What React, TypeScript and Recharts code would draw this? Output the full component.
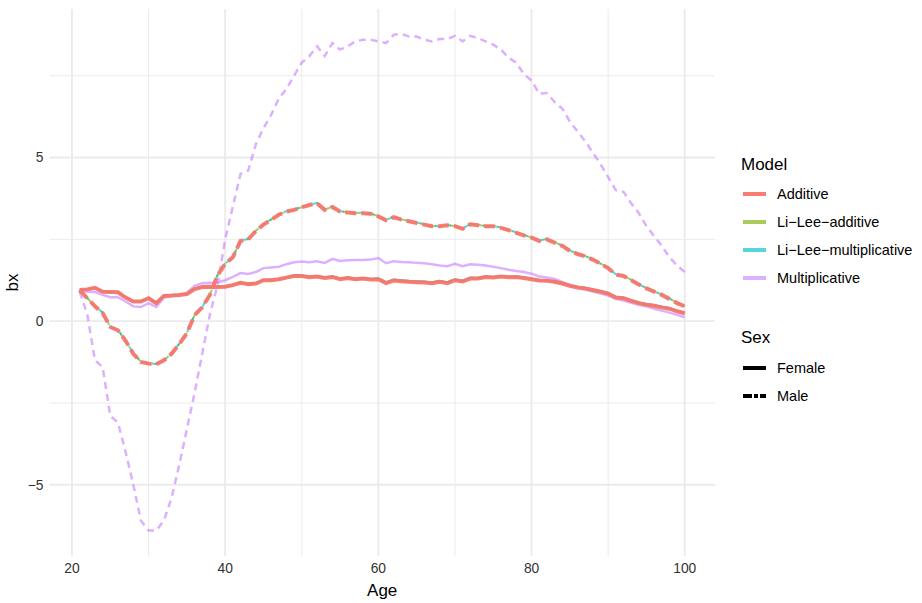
import React from 'react';
import { LineChart, Line, XAxis, YAxis, CartesianGrid, Label } from 'recharts';

const ages = [
  21, 22, 23, 24, 25, 26, 27, 28, 29, 30,
  31, 32, 33, 34, 35, 36, 37, 38, 39, 40,
  41, 42, 43, 44, 45, 46, 47, 48, 49, 50,
  51, 52, 53, 54, 55, 56, 57, 58, 59, 60,
  61, 62, 63, 64, 65, 66, 67, 68, 69, 70,
  71, 72, 73, 74, 75, 76, 77, 78, 79, 80,
  81, 82, 83, 84, 85, 86, 87, 88, 89, 90,
  91, 92, 93, 94, 95, 96, 97, 98, 99, 100,
];

const femaleAdditive = [
  0.95, 0.97, 1.02, 0.90, 0.89, 0.88, 0.72, 0.60, 0.60, 0.70,
  0.55, 0.77, 0.78, 0.80, 0.83, 0.98, 1.04, 1.05, 1.04, 1.05,
  1.10, 1.17, 1.13, 1.15, 1.25, 1.25, 1.28, 1.33, 1.38, 1.38,
  1.34, 1.36, 1.32, 1.35, 1.28, 1.32, 1.28, 1.30, 1.27, 1.28,
  1.16, 1.24, 1.22, 1.20, 1.19, 1.18, 1.16, 1.20, 1.16, 1.25,
  1.21, 1.30, 1.30, 1.35, 1.33, 1.36, 1.34, 1.35, 1.32, 1.28,
  1.24, 1.23, 1.20, 1.15, 1.08, 1.03, 1.00, 0.95, 0.90, 0.84,
  0.72, 0.70, 0.62, 0.55, 0.50, 0.47, 0.42, 0.38, 0.30, 0.24,
];

const femaleLiLeeAdditive = [
  0.95, 0.97, 1.02, 0.91, 0.89, 0.88, 0.73, 0.61, 0.61, 0.70,
  0.56, 0.77, 0.79, 0.80, 0.84, 0.98, 1.05, 1.06, 1.05, 1.06,
  1.11, 1.18, 1.14, 1.16, 1.26, 1.26, 1.29, 1.34, 1.39, 1.39,
  1.35, 1.37, 1.33, 1.36, 1.29, 1.33, 1.29, 1.31, 1.28, 1.30,
  1.18, 1.26, 1.24, 1.22, 1.21, 1.20, 1.18, 1.22, 1.18, 1.27,
  1.23, 1.32, 1.31, 1.36, 1.34, 1.37, 1.35, 1.36, 1.33, 1.29,
  1.25, 1.24, 1.21, 1.16, 1.09, 1.04, 1.01, 0.96, 0.91, 0.85,
  0.73, 0.71, 0.63, 0.56, 0.51, 0.48, 0.43, 0.39, 0.31, 0.25,
];

const femaleLiLeeMultiplicative = [
  0.95, 0.98, 1.02, 0.91, 0.90, 0.89, 0.73, 0.61, 0.61, 0.71,
  0.56, 0.78, 0.79, 0.81, 0.84, 0.99, 1.05, 1.06, 1.05, 1.06,
  1.11, 1.18, 1.14, 1.16, 1.26, 1.27, 1.29, 1.34, 1.40, 1.40,
  1.36, 1.38, 1.34, 1.37, 1.30, 1.34, 1.30, 1.32, 1.29, 1.31,
  1.19, 1.27, 1.25, 1.23, 1.22, 1.21, 1.19, 1.23, 1.19, 1.28,
  1.24, 1.33, 1.32, 1.37, 1.35, 1.38, 1.36, 1.36, 1.33, 1.30,
  1.26, 1.25, 1.22, 1.17, 1.10, 1.05, 1.02, 0.97, 0.92, 0.86,
  0.74, 0.72, 0.64, 0.57, 0.52, 0.49, 0.44, 0.40, 0.32, 0.26,
];

const femaleMultiplicative = [
  0.92, 0.90, 0.89, 0.80, 0.73, 0.73, 0.60, 0.45, 0.43, 0.55,
  0.43, 0.72, 0.76, 0.80, 0.86, 1.08, 1.16, 1.17, 1.18, 1.25,
  1.35, 1.47, 1.44, 1.50, 1.62, 1.64, 1.66, 1.74, 1.80, 1.82,
  1.80, 1.83, 1.78, 1.90, 1.84, 1.86, 1.87, 1.87, 1.88, 1.93,
  1.77, 1.83, 1.81, 1.80, 1.78, 1.77, 1.74, 1.70, 1.68, 1.75,
  1.68, 1.74, 1.72, 1.70, 1.66, 1.62, 1.57, 1.53, 1.50, 1.45,
  1.36, 1.33, 1.29, 1.20, 1.10, 1.02, 0.96, 0.90, 0.84, 0.78,
  0.68, 0.63, 0.56, 0.50, 0.45, 0.38, 0.32, 0.26, 0.19, 0.12,
];

const maleAdditive = [
  0.95, 0.70, 0.45, 0.25, -0.18, -0.28, -0.60, -1.00, -1.25, -1.30,
  -1.32, -1.20, -1.00, -0.70, -0.37, 0.18, 0.42, 0.80, 1.40, 1.75,
  1.95, 2.45, 2.50, 2.75, 2.95, 3.10, 3.25, 3.35, 3.40, 3.48,
  3.55, 3.60, 3.40, 3.49, 3.35, 3.32, 3.30, 3.30, 3.28, 3.20,
  3.08, 3.18, 3.10, 3.05, 3.00, 2.95, 2.90, 2.90, 2.93, 2.90,
  2.82, 2.96, 2.93, 2.90, 2.90, 2.85, 2.78, 2.70, 2.62, 2.55,
  2.45, 2.50, 2.40, 2.30, 2.15, 2.05, 1.98, 1.88, 1.75, 1.62,
  1.42, 1.38, 1.25, 1.12, 1.00, 0.90, 0.80, 0.68, 0.55, 0.45,
];

const maleLiLeeAdditive = [
  0.95, 0.70, 0.46, 0.25, -0.17, -0.28, -0.60, -0.99, -1.24, -1.30,
  -1.31, -1.20, -0.99, -0.70, -0.36, 0.18, 0.43, 0.81, 1.40, 1.76,
  1.96, 2.45, 2.51, 2.76, 2.96, 3.10, 3.26, 3.35, 3.41, 3.48,
  3.55, 3.60, 3.41, 3.49, 3.36, 3.33, 3.31, 3.30, 3.28, 3.21,
  3.09, 3.18, 3.11, 3.06, 3.01, 2.96, 2.91, 2.91, 2.93, 2.91,
  2.83, 2.96, 2.94, 2.91, 2.90, 2.86, 2.79, 2.71, 2.63, 2.56,
  2.46, 2.50, 2.41, 2.31, 2.16, 2.06, 1.99, 1.89, 1.76, 1.63,
  1.43, 1.39, 1.26, 1.13, 1.01, 0.91, 0.81, 0.69, 0.56, 0.46,
];

const maleLiLeeMultiplicative = [
  0.96, 0.71, 0.46, 0.26, -0.17, -0.27, -0.59, -0.99, -1.24, -1.29,
  -1.31, -1.19, -0.99, -0.69, -0.36, 0.19, 0.43, 0.81, 1.41, 1.76,
  1.96, 2.46, 2.51, 2.76, 2.96, 3.11, 3.26, 3.36, 3.41, 3.49,
  3.56, 3.61, 3.41, 3.50, 3.36, 3.33, 3.31, 3.31, 3.29, 3.21,
  3.09, 3.19, 3.11, 3.06, 3.01, 2.96, 2.91, 2.91, 2.94, 2.91,
  2.83, 2.97, 2.94, 2.91, 2.91, 2.86, 2.79, 2.71, 2.63, 2.56,
  2.46, 2.51, 2.41, 2.31, 2.16, 2.06, 1.99, 1.89, 1.76, 1.63,
  1.43, 1.39, 1.26, 1.13, 1.01, 0.91, 0.81, 0.69, 0.56, 0.46,
];

const maleMultiplicative = [
  0.90, 0.20, -1.20, -1.40, -2.90, -3.10, -4.00, -5.00, -6.10, -6.40,
  -6.40, -6.10, -5.40, -4.40, -3.30, -2.20, -1.00, 0.20, 1.10, 2.50,
  3.50, 4.50, 4.60, 5.40, 5.90, 6.30, 6.80, 7.10, 7.50, 7.90,
  8.10, 8.40, 8.10, 8.50, 8.30, 8.40, 8.55, 8.60, 8.60, 8.55,
  8.50, 8.75, 8.78, 8.70, 8.70, 8.60, 8.55, 8.62, 8.62, 8.72,
  8.55, 8.72, 8.65, 8.55, 8.45, 8.30, 8.05, 7.90, 7.55, 7.35,
  6.95, 6.97, 6.70, 6.50, 6.10, 5.80, 5.50, 5.15, 4.80, 4.40,
  4.00, 3.95, 3.60, 3.30, 2.90, 2.60, 2.30, 1.95, 1.70, 1.50,
];

const xTicks = [20, 40, 60, 80, 100];
const xMinor = [30, 50, 70, 90];
const yTicks = [-5, 0, 5];
const yMinor = [-2.5, 2.5, 7.5];

const modelNames = ['Additive', 'Li\u2212Lee\u2212additive', 'Li\u2212Lee\u2212multiplicative', 'Multiplicative'];
const sexNames = ['Female', 'Male'];

const RED = '#F8766D';
const GREEN = '#7CAE00';
const CYAN = '#00BFC4';
const PURPLE = '#C77CFF';
const modelColors = [RED, GREEN, CYAN, PURPLE];
const modelOpacity = [0.95, 0.65, 0.65, 0.6];

const FONT = '"Liberation Sans", Arial, Helvetica, sans-serif';

const data = ages.map((age, i) => ({
  age,
  fAdd: femaleAdditive[i],
  fLLA: femaleLiLeeAdditive[i],
  fLLM: femaleLiLeeMultiplicative[i],
  fMul: femaleMultiplicative[i],
  mAdd: maleAdditive[i],
  mLLA: maleLiLeeAdditive[i],
  mLLM: maleLiLeeMultiplicative[i],
  mMul: maleMultiplicative[i],
}));

const fmt = (v: number) => (v < 0 ? '\u2212' + Math.abs(v) : String(v));

const LegendBox = () => {
  const rowsY = [194, 222, 250, 278];
  return (
    <svg width={202} height={603} style={{ position: 'absolute', left: 720, top: 0 }}>
      <text x={21} y={170} fontFamily={FONT} fontSize={17} fill="#000">Model</text>
      {modelNames.map((name, i) => (
        <g key={name}>
          <line x1={23} x2={46} y1={rowsY[i]} y2={rowsY[i]} stroke={modelColors[i]} strokeOpacity={modelOpacity[i]} strokeWidth={4} />
          <text x={57} y={rowsY[i] + 5} fontFamily={FONT} fontSize={14.5} fill="#000">{name}</text>
        </g>
      ))}
      <text x={21} y={343} fontFamily={FONT} fontSize={17} fill="#000">Sex</text>
      <line x1={23} x2={46} y1={368} y2={368} stroke="#000" strokeWidth={4} />
      <text x={57} y={373} fontFamily={FONT} fontSize={14.5} fill="#000">{sexNames[0]}</text>
      <line x1={23} x2={46} y1={396} y2={396} stroke="#000" strokeWidth={4} strokeDasharray="9 2 4 2 8" />
      <text x={57} y={401} fontFamily={FONT} fontSize={14.5} fill="#000">{sexNames[1]}</text>
    </svg>
  );
};

export default function App() {
  return (
    <div style={{ position: 'absolute', left: 0, top: 0, width: 922, height: 603, background: '#fff' }}>
      <LineChart
        width={922}
        height={603}
        data={data}
        margin={{ top: 9, right: 207, left: 0, bottom: 0 }}
      >
        <CartesianGrid stroke="#EBEBEB" strokeWidth={1} horizontalValues={yMinor} verticalValues={xMinor} />
        <CartesianGrid stroke="#EBEBEB" strokeWidth={1.9} horizontalValues={yTicks} verticalValues={xTicks} />
        <XAxis
          dataKey="age"
          type="number"
          domain={[17.05, 103.95]}
          ticks={xTicks}
          allowDataOverflow
          axisLine={false}
          tickLine={false}
          tickSize={0}
          tickMargin={7}
          height={47}
          tick={{ fill: '#333333', fontSize: 13.8, fontFamily: FONT }}
        >
          <Label value="Age" position="insideBottom" offset={7} style={{ fill: '#000', fontSize: 17, fontFamily: FONT }} />
        </XAxis>
        <YAxis
          type="number"
          domain={[-7.18, 9.54]}
          ticks={yTicks}
          allowDataOverflow
          axisLine={false}
          tickLine={false}
          tickSize={0}
          tickMargin={6}
          width={49.4}
          tickFormatter={fmt}
          tick={{ fill: '#333333', fontSize: 13.8, fontFamily: FONT }}
        >
          <Label
            content={({ viewBox }: any) => {
              const cx = 18;
              const cy = viewBox.y + viewBox.height / 2;
              return (
                <text x={cx} y={cy} transform={`rotate(-90, ${cx}, ${cy})`} textAnchor="middle" fontFamily={FONT} fontSize={17} fill="#000">bx</text>
              );
            }}
          />
        </YAxis>
        <Line dataKey="mLLA" type="linear" dot={false} isAnimationActive={false} stroke={GREEN} strokeOpacity={0.65} strokeWidth={2} strokeDasharray="6 4" />
        <Line dataKey="mLLM" type="linear" dot={false} isAnimationActive={false} stroke={CYAN} strokeOpacity={0.65} strokeWidth={2} strokeDasharray="6 4" strokeDashoffset={3} />
        <Line dataKey="fLLA" type="linear" dot={false} isAnimationActive={false} stroke={GREEN} strokeOpacity={0.65} strokeWidth={2} />
        <Line dataKey="fLLM" type="linear" dot={false} isAnimationActive={false} stroke={CYAN} strokeOpacity={0.65} strokeWidth={2} />
        <Line dataKey="fMul" type="linear" dot={false} isAnimationActive={false} stroke={PURPLE} strokeOpacity={0.6} strokeWidth={2.5} />
        <Line dataKey="mMul" type="linear" dot={false} isAnimationActive={false} stroke={PURPLE} strokeOpacity={0.6} strokeWidth={2.5} strokeDasharray="7 5" />
        <Line dataKey="fAdd" type="linear" dot={false} isAnimationActive={false} stroke={RED} strokeOpacity={0.95} strokeWidth={4} />
        <Line dataKey="mAdd" type="linear" dot={false} isAnimationActive={false} stroke={RED} strokeOpacity={0.95} strokeWidth={4} strokeDasharray="11 5" />
      </LineChart>
      <LegendBox />
    </div>
  );
}
